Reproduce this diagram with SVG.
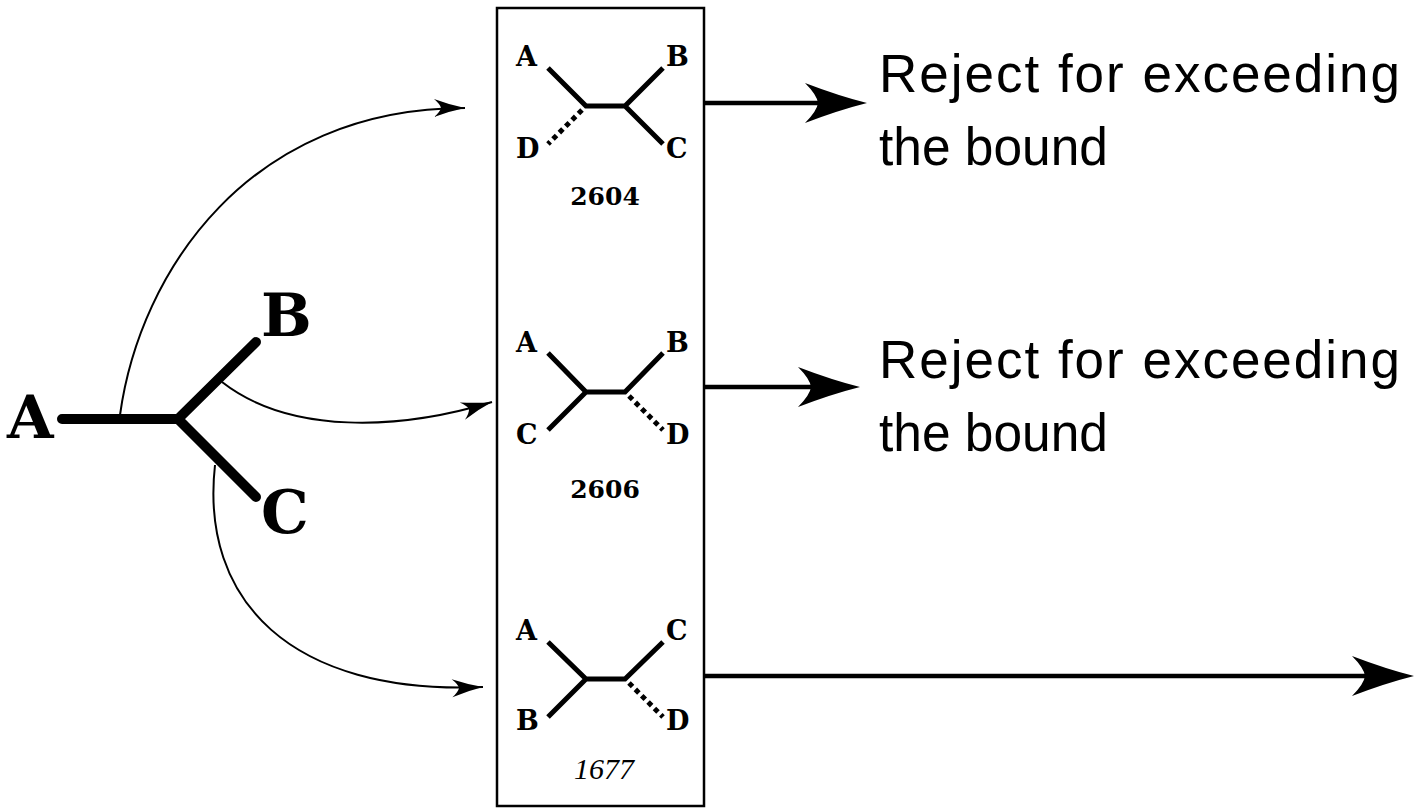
<svg xmlns="http://www.w3.org/2000/svg" width="1414" height="811" viewBox="0 0 1414 811">
  <style>
    .big { font-family: "DejaVu Serif", "Liberation Serif", serif; font-weight: bold; font-size: 60px; fill: #000; }
    .lbl { font-family: "DejaVu Serif", "Liberation Serif", serif; font-weight: bold; font-size: 27px; fill: #000; }
    .num { font-family: "DejaVu Serif", "Liberation Serif", serif; font-weight: bold; font-size: 25px; fill: #000; }
    .numi { font-family: "Liberation Serif", serif; font-style: italic; font-size: 30px; fill: #000; }
    .msg { font-family: "Liberation Sans", Arial, sans-serif; font-size: 53px; fill: #000; }
    .tree { stroke: #000; stroke-width: 10; stroke-linecap: round; fill: none; }
    .sub { stroke: #000; stroke-width: 5; stroke-linecap: butt; fill: none; }
    .dot { stroke: #000; stroke-width: 5; stroke-dasharray: 5 4; fill: none; }
    .curve { stroke: #000; stroke-width: 2; fill: none; marker-end: url(#small); }
    .out { stroke: #000; stroke-width: 4.5; fill: none; marker-end: url(#big); }
  </style>
  <defs>
    <marker id="big" markerUnits="userSpaceOnUse" viewBox="-64 -22 66 44" markerWidth="66" markerHeight="44" refX="-40" refY="0" orient="auto" overflow="visible">
      <path d="M0,0 Q-28,-7 -62,-20 Q-50,-8 -49,0 Q-50,8 -62,20 Q-28,7 0,0 Z" fill="#000"/>
    </marker>
    <marker id="small" markerUnits="userSpaceOnUse" viewBox="-32 -10 34 20" markerWidth="34" markerHeight="20" refX="0" refY="0" orient="auto" overflow="visible">
      <path d="M0,0 Q-15,-3 -31,-9 Q-25,-4 -24,0 Q-25,4 -31,9 Q-15,3 0,0 Z" fill="#000"/>
    </marker>
  </defs>

  <rect x="0" y="0" width="1414" height="811" fill="#fff"/>

  <!-- starting tree with three leaves -->
  <g id="start-tree">
    <path class="tree" d="M62,419 L178,419 M178,419 L256,342 M178,419 L256,497"/>
    <text class="big" x="7" y="438">A</text>
    <text class="big" x="261" y="336">B</text>
    <text class="big" x="261" y="533">C</text>
  </g>

  <!-- candidate frame -->
  <g id="candidates-box">
    <rect x="497" y="8" width="207" height="798" fill="none" stroke="#000" stroke-width="2.5"/>
  </g>

  <!-- candidate: D attached to A -->
  <g id="tree-2604">
    <path class="sub" d="M548,68 L586,106 L625,106 L663,68 M625,106 L663,144"/>
    <path class="dot" d="M582,110 L548,144"/>
    <text class="lbl" x="516" y="66">A</text>
    <text class="lbl" x="666" y="66">B</text>
    <text class="lbl" x="516" y="158">D</text>
    <text class="lbl" x="666" y="158">C</text>
    <text class="num" x="605" y="205" text-anchor="middle">2604</text>
  </g>

  <!-- candidate: D attached to B -->
  <g id="tree-2606">
    <path class="sub" d="M548,353 L586,392 L625,392 L663,353 M586,392 L548,430"/>
    <path class="dot" d="M629,396 L663,430"/>
    <text class="lbl" x="516" y="352">A</text>
    <text class="lbl" x="666" y="352">B</text>
    <text class="lbl" x="516" y="444">C</text>
    <text class="lbl" x="666" y="444">D</text>
    <text class="num" x="605" y="498" text-anchor="middle">2606</text>
  </g>

  <!-- candidate: D attached to C -->
  <g id="tree-1677">
    <path class="sub" d="M548,642 L586,679 L625,679 L663,642 M586,679 L548,717"/>
    <path class="dot" d="M629,683 L663,717"/>
    <text class="lbl" x="516" y="640">A</text>
    <text class="lbl" x="666" y="640">C</text>
    <text class="lbl" x="516" y="730">B</text>
    <text class="lbl" x="666" y="730">D</text>
    <text class="numi" x="604" y="779" text-anchor="middle">1677</text>
  </g>

  <!-- outcome labels -->
  <g id="reject-1">
    <text class="msg" x="879" y="92" textLength="521" lengthAdjust="spacing">Reject for exceeding</text>
    <text class="msg" x="879" y="165" textLength="229" lengthAdjust="spacingAndGlyphs">the bound</text>
  </g>
  <g id="reject-2">
    <text class="msg" x="879" y="378" textLength="521" lengthAdjust="spacing">Reject for exceeding</text>
    <text class="msg" x="879" y="451" textLength="229" lengthAdjust="spacingAndGlyphs">the bound</text>
  </g>

  <!-- connectors -->
  <g id="connectors">
    <path class="curve" d="M120,415 C140,270 250,108 465,108"/>
    <path class="curve" d="M222,382 C290,435 400,430 492,402"/>
    <path class="curve" d="M215,465 C200,600 290,695 483,687"/>
    <path class="out" d="M704,103 L827,103"/>
    <path class="out" d="M704,387 L820,387"/>
    <path class="out" d="M704,676 L1374,676"/>
  </g>
</svg>
